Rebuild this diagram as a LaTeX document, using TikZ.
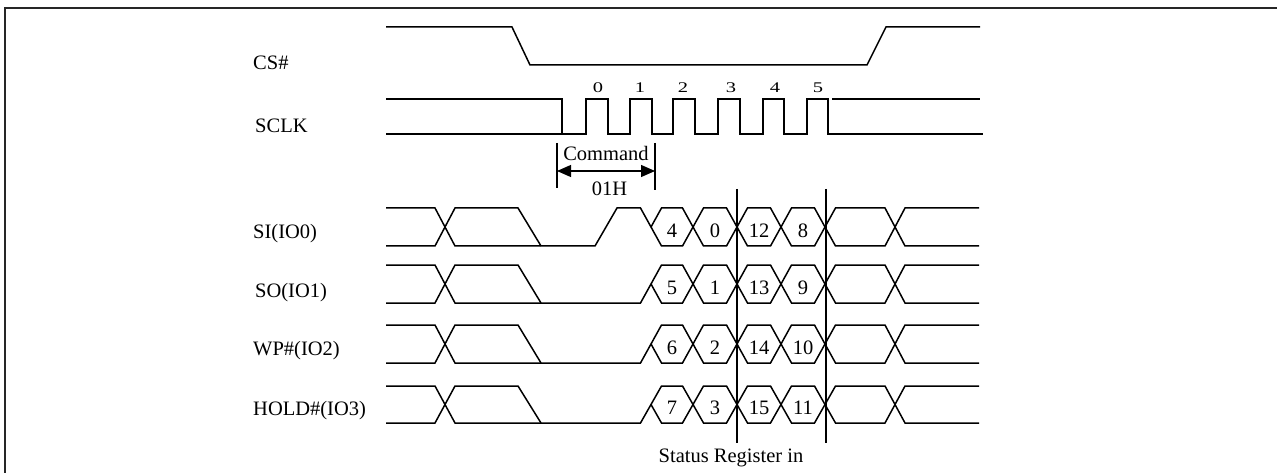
\documentclass[tikz,border=0pt]{standalone}
\usepackage{fontspec}
\usepackage{graphicx}
\setmainfont{Liberation Serif}
\usetikzlibrary{arrows.meta}
\tikzset{
  sig/.style={line width=1.5pt, line join=miter},
  lbl/.style={font=\fontsize{20.5}{24}\selectfont, inner sep=0pt},
  clbl/.style={font=\fontsize{20.5}{24}\selectfont, inner sep=0pt, anchor=base},
  framel/.style={line width=1.8pt, black!85},
  dimarrow/.style={line width=1.2pt, {Triangle[length=14pt,width=12pt]}-{Triangle[length=14pt,width=12pt]}}
}
\newcommand\wx{10.5}
\newcommand\sqz[1]{\scalebox{1}[0.72]{#1}}
\newcommand\hexcell[6]{%
  \pgfmathsetmacro\hexmid{(#3+#4)/2}
  \draw[sig] (#1,\hexmid) -- (#1+\wx,#3) -- (#2-\wx,#3) -- (#2,\hexmid) -- (#2-\wx,#4) -- (#1+\wx,#4) -- cycle;
  \node[lbl,anchor=base] (#6) at ({(#1+#2)/2},\hexmid+10) {#5};
}
\newcommand\busrow[7]{%
  \pgfmathsetmacro\rowmid{(#1+#2)/2}
  \draw[sig] (386,#2) -- (435,#2) -- (455,#1) -- (518,#1) -- (541,#2);
  \ifnum#3=1
    \draw[sig] (386,#1) -- (435,#1) -- (455,#2) -- (595,#2) -- (617,#1) -- (651-\wx,#1) -- (651,\rowmid);
  \else
    \draw[sig] (386,#1) -- (435,#1) -- (455,#2) -- (651-\wx,#2) -- (651,\rowmid);
  \fi
  \hexcell{651}{693}{#1}{#2}{#4}{#7a}
  \hexcell{693}{737}{#1}{#2}{#5}{#7b}
  \hexcell{737}{781}{#1}{#2}{#6}{#7c}
  \pgfmathsetmacro\rowmid{(#1+#2)/2}
  \draw[sig] (825,\rowmid) -- (825+\wx,#1) -- (885,#1) -- (905,#2) -- (979,#2);
  \draw[sig] (825,\rowmid) -- (825+\wx,#2) -- (885,#2) -- (905,#1) -- (979,#1);
}
\begin{document}
\begin{tikzpicture}[x=1pt,y=-1pt]
\useasboundingbox (0,0) rectangle (1277,473);
% frame
\draw[framel] (5,473) -- (5,8) -- (1277,8);

% labels
\node[lbl,anchor=base west] (lcs) at (253,70) {CS\#};
\node[lbl,anchor=base west] (lsclk) at (255,133) {SCLK};
\node[lbl,anchor=base west] (lsi) at (253,238) {SI(IO0)};
\node[lbl,anchor=base west] (lso) at (255,297) {SO(IO1)};
\node[lbl,anchor=base west] (lwp) at (253,355) {WP\#(IO2)};
\node[lbl,anchor=base west] (lhold) at (253,415) {HOLD\#(IO3)};

% CS#
\draw[sig] (386,27) -- (512,27) -- (530,65) -- (867,65) -- (886,27) -- (980,27);

% SCLK
\draw[sig] (386,99) -- (562,99) -- (562,134);
\draw[sig] (386,134) -- (586,134) -- (586,99) -- (608,99) -- (608,134)
  -- (630,134) -- (630,99) -- (652,99) -- (652,134)
  -- (673,134) -- (673,99) -- (695,99) -- (695,134)
  -- (718,134) -- (718,99) -- (740,99) -- (740,134)
  -- (763,134) -- (763,99) -- (784,99) -- (784,134)
  -- (807,134) -- (807,99) -- (828,99) -- (828,134) -- (983,134);
\draw[sig] (832,99) -- (980,99);
\node[clbl] (c0) at (598,93) {\sqz{0}};
\node[clbl] (c1) at (640,93) {\sqz{1}};
\node[clbl] (c2) at (683,93) {\sqz{2}};
\node[clbl] (c3) at (731,93) {\sqz{3}};
\node[clbl] (c4) at (775,93) {\sqz{4}};
\node[clbl] (c5) at (818,93) {\sqz{5}};

% Command dimension
\coordinate (cmdLt) at (557,143);
\coordinate (cmdLb) at (557,188);
\coordinate (cmdRt) at (655,143);
\coordinate (cmdRb) at (655,190);
\draw[line width=1.2pt] (cmdLt) -- (cmdLb);
\draw[line width=1.2pt] (cmdRt) -- (cmdRb);
\coordinate (cmdL) at (557,171);
\coordinate (cmdR) at (655,171);
\draw[dimarrow] (cmdL) -- (cmdR);
\node[lbl,anchor=base] (cmd) at (606,161) {Command};
\node[lbl,anchor=base] (h01) at (609.5,196) {01H};

% bus rows
\busrow{208}{246}{1}{4}{0}{12}{si}
\hexcell{781}{825}{208}{246}{8}{sid}
\busrow{265}{303}{0}{5}{1}{13}{so}
\hexcell{781}{825}{265}{303}{9}{sod}
\busrow{325}{363}{0}{6}{2}{14}{wp}
\hexcell{781}{825}{325}{363}{10}{wpd}
\busrow{386}{423}{0}{7}{3}{15}{hold}
\hexcell{781}{825}{386}{423}{11}{holdd}

% status register markers
\coordinate (srLt) at (737,189);
\coordinate (srLb) at (737,443);
\coordinate (srRt) at (826,189);
\coordinate (srRb) at (826,443);
\draw[line width=1.3pt] (srLt) -- (srLb);
\draw[line width=1.3pt] (srRt) -- (srRb);
\node[lbl,anchor=base] (sr) at (731,462) {Status Register in};
\end{tikzpicture}
\end{document}
